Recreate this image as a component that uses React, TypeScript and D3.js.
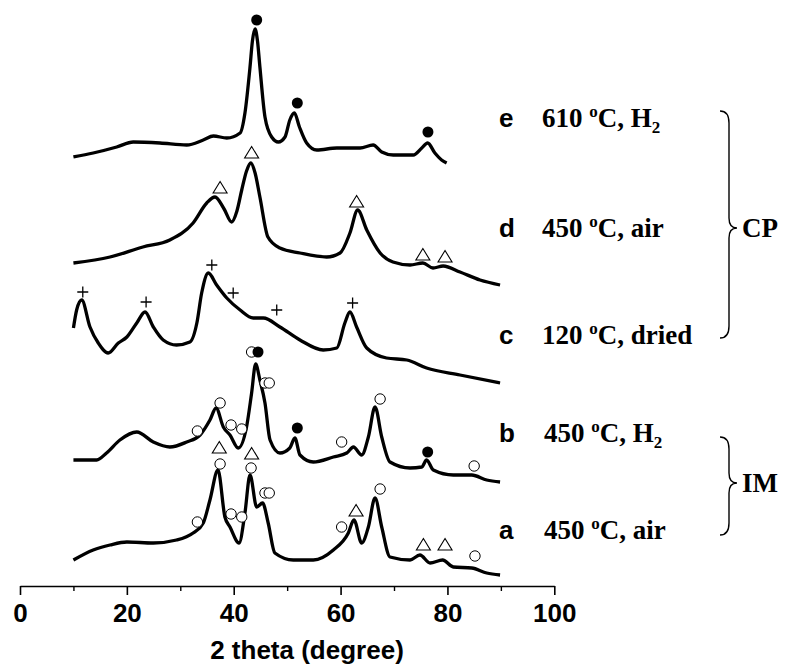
import React, { useRef, useEffect } from "react";
import * as d3 from "d3";

// XRD patterns, [2 theta, intensity (a.u., offset already applied)]
const patternE = [
  [10.0, 429], [13.7, 433], [18.1, 439], [21.2, 444], [26.2, 443], [31.2, 441], [34.3, 446],
  [36.2, 450], [38.7, 448], [41.2, 453], [42.1, 473], [43.05, 519], [43.5, 545], [44.0, 557],
  [44.45, 545], [44.9, 519], [45.85, 469], [47.1, 449], [48.35, 444], [49.6, 449], [50.5, 466],
  [51.35, 473], [52.3, 459], [53.65, 443], [55.55, 436], [59.3, 438], [63.65, 438], [66.1, 441],
  [67.7, 434], [69.85, 431], [73.6, 431], [75.2, 438], [76.3, 443], [77.65, 433], [78.9, 426],
  [79.85, 423],
];
const patternD = [
  [10.0, 323], [16.85, 329], [23.0, 339], [28.05, 346], [32.4, 363], [34.95, 383], [36.5, 389],
  [38.2, 377], [39.6, 364], [40.6, 375], [41.5, 396], [42.4, 415], [43.2, 423], [44.0, 413],
  [44.9, 389], [46.4, 349], [48.65, 338], [52.4, 333], [57.4, 329], [59.9, 333], [61.75, 353],
  [63.2, 376], [64.9, 356], [67.4, 333], [69.8, 324], [73.0, 321], [75.4, 323], [77.3, 318],
  [79.2, 320], [82.35, 314], [86.1, 306], [89.85, 301],
];
const patternC = [
  [10.0, 258], [10.6, 276], [11.55, 286], [13.1, 259], [14.65, 243], [16.5, 233], [18.4, 243],
  [20.0, 249], [21.85, 263], [23.4, 274], [24.95, 259], [26.8, 246], [29.3, 241], [31.8, 244],
  [33.1, 263], [34.0, 293], [35.25, 313], [36.8, 301], [38.7, 288], [41.2, 276], [43.65, 268],
  [45.55, 268], [48.65, 259], [52.4, 246], [56.75, 236], [59.3, 238], [60.8, 263], [61.75, 274],
  [63.0, 259], [64.9, 238], [68.6, 228], [72.4, 226], [76.1, 218], [82.35, 211], [89.85, 203],
];
const patternB = [
  [10.0, 126], [14.35, 126], [16.2, 133], [18.7, 146], [21.85, 154], [24.95, 144], [28.05, 139],
  [31.2, 144], [33.7, 151], [35.55, 166], [36.7, 178], [38.05, 159], [39.3, 151], [40.85, 138],
  [42.4, 159], [43.35, 193], [44.1, 222], [44.9, 206], [45.85, 183], [46.8, 146], [48.65, 133],
  [50.5, 138], [51.45, 148], [52.4, 131], [54.9, 124], [58.65, 129], [61.15, 133], [62.4, 139],
  [63.95, 131], [65.2, 149], [66.45, 179], [67.7, 149], [69.25, 124], [73.0, 118], [75.2, 119],
  [76.1, 126], [77.35, 116], [81.1, 111], [84.55, 111], [87.35, 106], [89.85, 104],
];
const patternA = [
  [10.0, 26], [13.7, 36], [16.85, 41], [20.0, 44], [24.95, 43], [29.3, 46], [32.4, 53],
  [34.3, 63], [35.55, 86], [37.05, 116], [38.35, 69], [39.3, 59], [41.0, 43], [42.1, 73],
  [43.05, 111], [44.3, 79], [45.4, 83], [46.45, 63], [47.7, 33], [51.15, 26], [54.9, 26],
  [58.65, 36], [61.45, 53], [62.5, 66], [63.95, 43], [65.2, 59], [66.45, 88], [67.7, 59],
  [69.25, 29], [73.0, 26], [74.85, 31], [76.75, 23], [79.1, 26], [81.1, 19], [84.55, 18],
  [87.35, 13], [89.85, 11],
];

// phase markers: [2 theta, intensity, phase]
const markersE = [[44.3, 566, "dot"], [51.9, 483, "dot"], [76.35, 454, "dot"]];
const markersD = [
  [37.45, 398, "tri"], [43.35, 433, "tri"], [63.0, 384, "tri"], [75.4, 331, "tri"], [79.55, 329, "tri"],
];
const markersC = [
  [11.75, 294, "plus"], [23.6, 284, "plus"], [35.9, 321, "plus"], [39.9, 293, "plus"],
  [48.05, 276, "plus"], [62.25, 283, "plus"],
];
const markersB = [
  [33.2, 155, "ring"], [37.45, 183, "ring"], [39.5, 161, "ring"], [41.5, 157, "ring"],
  [43.35, 234, "ring"], [44.55, 234, "dot"], [45.85, 203, "ring"], [46.65, 203, "ring"],
  [51.9, 158, "dot"], [60.2, 144, "ring"], [67.4, 187, "ring"], [76.3, 134, "dot"], [85.0, 120, "ring"],
];
const markersA = [
  [33.2, 64, "ring"], [37.45, 122, "ring"], [37.3, 138, "tri"], [39.5, 72, "ring"], [41.5, 69, "ring"],
  [43.25, 118, "ring"], [43.35, 132, "tri"], [45.85, 93, "ring"], [46.65, 93, "ring"],
  [60.2, 59, "ring"], [62.9, 75, "tri"], [67.4, 97, "ring"], [75.5, 41, "tri"], [79.55, 41, "tri"],
  [85.15, 30, "ring"],
];

const sampleLetters = ["e", "d", "c", "b", "a"];
const sampleTemps = ["610", "450", "120", "450", "450"];
const sampleAtmos = ["H2", "air", "dried", "H2", "air"];
const groupNames = ["CP", "IM"];
const xTicks = [0, 20, 40, 60, 80, 100];
const xMinorTicks = [10, 30, 50, 70, 90];

const W = 786;
const H = 666;

const App = () => {
  const svgRef = useRef(null);

  useEffect(() => {
    const svg = d3.select(svgRef.current);
    svg.selectAll("*").remove();

    const x = d3.scaleLinear().domain([0, 100]).range([20, 554.3]);
    const y = d3.scaleLinear().domain([0, 586]).range([586, 0]);
    const sans = "'Liberation Sans', Arial, sans-serif";
    const serif = "'Liberation Serif', 'Times New Roman', serif";

    const line = d3
      .line()
      .x((d) => x(d[0]))
      .y((d) => y(d[1]))
      .curve(d3.curveMonotoneX);

    const patterns = [patternE, patternD, patternC, patternB, patternA];
    patterns.forEach((p) => {
      svg
        .append("path")
        .attr("d", line(p))
        .attr("fill", "none")
        .attr("stroke", "#000")
        .attr("stroke-width", 3.3)
        .attr("stroke-linejoin", "round");
    });

    // markers
    const allMarkers = [...markersE, ...markersD, ...markersC, ...markersB, ...markersA];
    const mg = svg.append("g");
    allMarkers.forEach(([tt, v, kind]) => {
      const cx = x(tt);
      const cy = y(v);
      if (kind === "dot") {
        mg.append("circle").attr("cx", cx).attr("cy", cy).attr("r", 5.5).attr("fill", "#000");
      } else if (kind === "ring") {
        mg.append("circle").attr("cx", cx).attr("cy", cy).attr("r", 5.2)
          .attr("fill", "#fff").attr("stroke", "#000").attr("stroke-width", 1);
      } else if (kind === "tri") {
        mg.append("path")
          .attr("d", `M${cx},${cy - 6.5}L${cx + 7},${cy + 5}L${cx - 7},${cy + 5}Z`)
          .attr("fill", "#fff").attr("stroke", "#000").attr("stroke-width", 1.1);
      } else {
        mg.append("path")
          .attr("d", `M${cx - 5.5},${cy}H${cx + 5.5}M${cx},${cy - 5.5}V${cy + 5.5}`)
          .attr("stroke", "#000").attr("stroke-width", 1.3);
      }
    });

    // x axis
    const ax = svg.append("g").attr("transform", "translate(0,586)");
    ax.call(d3.axisBottom(x).tickValues(xTicks).tickSize(9).tickSizeOuter(0));
    ax.select(".domain").attr("stroke-width", 1.6);
    ax.selectAll(".tick line").attr("stroke-width", 1.6);
    ax.selectAll(".tick text")
      .attr("y", 17.5)
      .attr("font-family", sans)
      .attr("font-weight", "bold")
      .attr("font-size", 26)
      .attr("fill", "#000");
    const minor = svg.append("g").attr("transform", "translate(0,586)");
    minor.call(d3.axisBottom(x).tickValues(xMinorTicks).tickSize(5).tickFormat(() => ""));
    minor.select(".domain").remove();
    minor.selectAll(".tick line").attr("stroke-width", 1.4);

    svg.append("text")
      .attr("x", 307)
      .attr("y", 659)
      .attr("text-anchor", "middle")
      .attr("font-family", sans)
      .attr("font-weight", "bold")
      .attr("font-size", 26)
      .text("2 theta (degree)");

    // sample labels
    const baselines = [127, 237, 344, 442, 539];
    sampleLetters.forEach((l, i) => {
      svg.append("text")
        .attr("x", 499)
        .attr("y", baselines[i])
        .attr("font-family", sans)
        .attr("font-weight", "bold")
        .attr("font-size", 26)
        .text(l);
      const t = svg.append("text")
        .attr("x", i < 3 ? 542 : 544)
        .attr("y", baselines[i])
        .attr("font-family", serif)
        .attr("font-weight", "bold")
        .attr("font-size", 27);
      t.append("tspan").text(sampleTemps[i] + " ");
      t.append("tspan").attr("font-size", 17).attr("dy", -10).text("o");
      t.append("tspan").attr("dy", 10).text("C, ");
      const gas = sampleAtmos[i];
      if (gas === "H2") {
        t.append("tspan").text("H");
        t.append("tspan").attr("font-size", 17).attr("dy", 6).text("2");
      } else {
        t.append("tspan").text(gas);
      }
    });

    // braces
    const brace = (top, bot, tip) =>
      `M720,${top}C726,${top} 729,${top + 4} 729,${top + 12}` +
      `L729,${tip - 10}C729,${tip - 4} 731,${tip} 737,${tip}` +
      `C731,${tip} 729,${tip + 4} 729,${tip + 10}` +
      `L729,${bot - 12}C729,${bot - 4} 726,${bot} 720,${bot}`;
    const braceSpans = [[111, 338, 228], [437, 535, 483]];
    braceSpans.forEach(([a, b, c], i) => {
      svg.append("path")
        .attr("d", brace(a, b, c))
        .attr("fill", "none")
        .attr("stroke", "#000")
        .attr("stroke-width", 1.4);
      svg.append("text")
        .attr("x", 742)
        .attr("y", c + 9)
        .attr("font-family", serif)
        .attr("font-weight", "bold")
        .attr("font-size", 27)
        .text(groupNames[i]);
    });
  }, []);

  return (
    <svg
      ref={svgRef}
      width={W}
      height={H}
      style={{ position: "absolute", left: 0, top: 0, background: "#fff" }}
    ></svg>
  );
};

export default App;
